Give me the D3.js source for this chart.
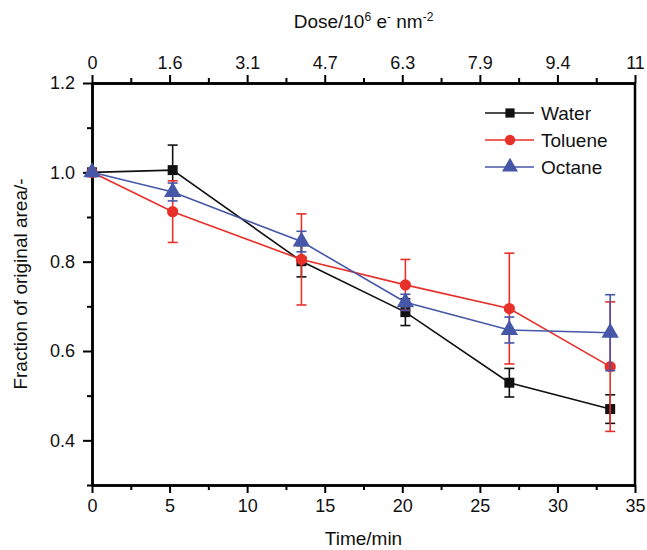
<!DOCTYPE html>
<html>
<head>
<meta charset="utf-8">
<script src="https://cdn.jsdelivr.net/npm/d3@7"></script>
<style>
  body { margin: 0; background: #fff; }
  svg { font-family: "Liberation Sans", Arial, sans-serif; }
</style>
</head>
<body>
<div id="chart"></div>
<script>
// data
var times = [0, 5.2, 13.5, 20.2, 26.9, 33.4];
var water = [1.0, 1.005, 0.801, 0.687, 0.529, 0.470];
var waterErr = [0, 0.056, 0.035, 0.030, 0.032, 0.032];
var toluene = [1.0, 0.912, 0.805, 0.748, 0.695, 0.565];
var tolueneErr = [0, 0.069, 0.102, 0.057, 0.124, 0.145];
var octane = [1.0, 0.956, 0.845, 0.709, 0.647, 0.641];
var octaneErr = [0, 0.020, 0.023, 0.018, 0.029, 0.085];
var names = ['Water', 'Toluene', 'Octane'];
var colors = ['#111111', '#e8302a', '#4657a8'];
var shapes = [d3.symbolSquare, d3.symbolCircle, d3.symbolTriangle];
var sizes = [100, 100, 130];
var timeTicks = [0, 5, 10, 15, 20, 25, 30, 35];
var doseLabels = ['0', '1.6', '3.1', '4.7', '6.3', '7.9', '9.4', '11'];
var yTicks = [0.4, 0.6, 0.8, 1.0, 1.2];

var width = 647, height = 550;
var margin = {top: 83, right: 12, bottom: 65, left: 92};

var svg = d3.select('#chart').append('svg')
    .attr('width', width)
    .attr('height', height);

var x = d3.scaleLinear().domain([0, 35]).range([margin.left, width - margin.right]);
var y = d3.scaleLinear().domain([0.3, 1.2]).range([height - margin.bottom, margin.top]);

var series = [water, toluene, octane];
var errs = [waterErr, tolueneErr, octaneErr];

// frame (right side has no ticks)
svg.append('line')
    .attr('x1', x(35)).attr('x2', x(35))
    .attr('y1', y(1.2)).attr('y2', y(0.3))
    .attr('stroke', '#000').attr('stroke-width', 2.5);

function styleAxis(g) {
    g.select('.domain').attr('stroke-width', 2.5);
    g.selectAll('.tick line').attr('stroke-width', 2);
    g.selectAll('.tick text').style('font-size', '18px').attr('fill', '#111');
}

var minorX = d3.range(2.5, 35, 5);
var minorY = [0.3, 0.5, 0.7, 0.9, 1.1];

// bottom axis
svg.append('g')
    .attr('transform', 'translate(0,' + y(0.3) + ')')
    .call(d3.axisBottom(x).tickValues(minorX).tickSize(5).tickFormat('').tickSizeOuter(0))
    .call(styleAxis);
svg.append('g')
    .attr('transform', 'translate(0,' + y(0.3) + ')')
    .call(d3.axisBottom(x).tickValues(timeTicks).tickSize(8).tickPadding(6).tickSizeOuter(0))
    .call(styleAxis);

// top axis (dose)
svg.append('g')
    .attr('transform', 'translate(0,' + y(1.2) + ')')
    .call(d3.axisTop(x).tickValues(minorX).tickSize(5).tickFormat('').tickSizeOuter(0))
    .call(styleAxis);
svg.append('g')
    .attr('transform', 'translate(0,' + y(1.2) + ')')
    .call(d3.axisTop(x).tickValues(timeTicks).tickSize(8).tickPadding(6).tickSizeOuter(0)
        .tickFormat(function(d, i) { return doseLabels[i]; }))
    .call(styleAxis);

// left axis
svg.append('g')
    .attr('transform', 'translate(' + x(0) + ',0)')
    .call(d3.axisLeft(y).tickValues(minorY).tickSize(5).tickFormat('').tickSizeOuter(0))
    .call(styleAxis);
svg.append('g')
    .attr('transform', 'translate(' + x(0) + ',0)')
    .call(d3.axisLeft(y).tickValues(yTicks).tickSize(9).tickPadding(8).tickSizeOuter(0)
        .tickFormat(d3.format('.1f')))
    .call(styleAxis);

// titles
svg.append('text')
    .attr('x', (x(0) + x(35)) / 2)
    .attr('y', 545)
    .attr('text-anchor', 'middle')
    .style('font-size', '19px')
    .attr('fill', '#111')
    .text('Time/min');

svg.append('text')
    .attr('transform', 'translate(27,' + ((y(0.3) + y(1.2)) / 2) + ') rotate(-90)')
    .attr('text-anchor', 'middle')
    .style('font-size', '19px')
    .attr('fill', '#111')
    .text('Fraction of original area/-');

var doseTitle = svg.append('text')
    .attr('x', (x(0) + x(35)) / 2)
    .attr('y', 28)
    .attr('text-anchor', 'middle')
    .style('font-size', '19px')
    .attr('fill', '#111');
doseTitle.append('tspan').text('Dose/10');
doseTitle.append('tspan').attr('dy', -7).style('font-size', '12px').text('6');
doseTitle.append('tspan').attr('dy', 7).text(' e');
doseTitle.append('tspan').attr('dy', -7).style('font-size', '12px').text('-');
doseTitle.append('tspan').attr('dy', 7).text(' nm');
doseTitle.append('tspan').attr('dy', -7).style('font-size', '12px').text('-2');

// series
var line = d3.line()
    .x(function(d) { return x(d.t); })
    .y(function(d) { return y(d.v); });

series.forEach(function(vals, s) {
    var pts = vals.map(function(v, i) { return {t: times[i], v: v, e: errs[s][i]}; });
    var g = svg.append('g').attr('class', 'series');

    g.append('path')
        .datum(pts)
        .attr('fill', 'none')
        .attr('stroke', colors[s])
        .attr('stroke-width', 1.6);
    g.select('path').attr('d', line);

    var eb = g.selectAll('.err')
        .data(pts.filter(function(d) { return d.e > 0; }))
        .enter().append('g')
            .attr('class', 'err')
            .attr('stroke', colors[s])
            .attr('stroke-width', 1.6);
    eb.append('line')
        .attr('x1', d => x(d.t)).attr('x2', d => x(d.t))
        .attr('y1', d => y(d.v - d.e)).attr('y2', d => y(d.v + d.e));
    eb.append('line')
        .attr('x1', d => x(d.t) - 5).attr('x2', d => x(d.t) + 5)
        .attr('y1', d => y(d.v + d.e)).attr('y2', d => y(d.v + d.e));
    eb.append('line')
        .attr('x1', d => x(d.t) - 5).attr('x2', d => x(d.t) + 5)
        .attr('y1', d => y(d.v - d.e)).attr('y2', d => y(d.v - d.e));

    g.selectAll('.pt')
        .data(pts)
        .enter().append('path')
            .attr('class', 'pt')
            .attr('transform', d => 'translate(' + x(d.t) + ',' + y(d.v) + ')')
            .attr('d', d3.symbol().type(shapes[s]).size(sizes[s]))
            .attr('fill', colors[s]);
});

// legend
var legend = svg.selectAll('.legend')
    .data(names)
    .enter().append('g')
        .attr('class', 'legend')
        .attr('transform', (d, i) => 'translate(485,' + (113 + i * 27) + ')');
legend.append('line')
    .attr('x1', 0).attr('x2', 49)
    .attr('stroke', (d, i) => colors[i])
    .attr('stroke-width', 1.6);
legend.append('path')
    .attr('transform', 'translate(25,0)')
    .attr('d', (d, i) => d3.symbol().type(shapes[i]).size(sizes[i] * 0.85)())
    .attr('fill', (d, i) => colors[i]);
legend.append('text')
    .attr('x', 56)
    .attr('y', 7)
    .style('font-size', '19px')
    .attr('fill', '#111')
    .text(d => d);
</script>
</body>
</html>
